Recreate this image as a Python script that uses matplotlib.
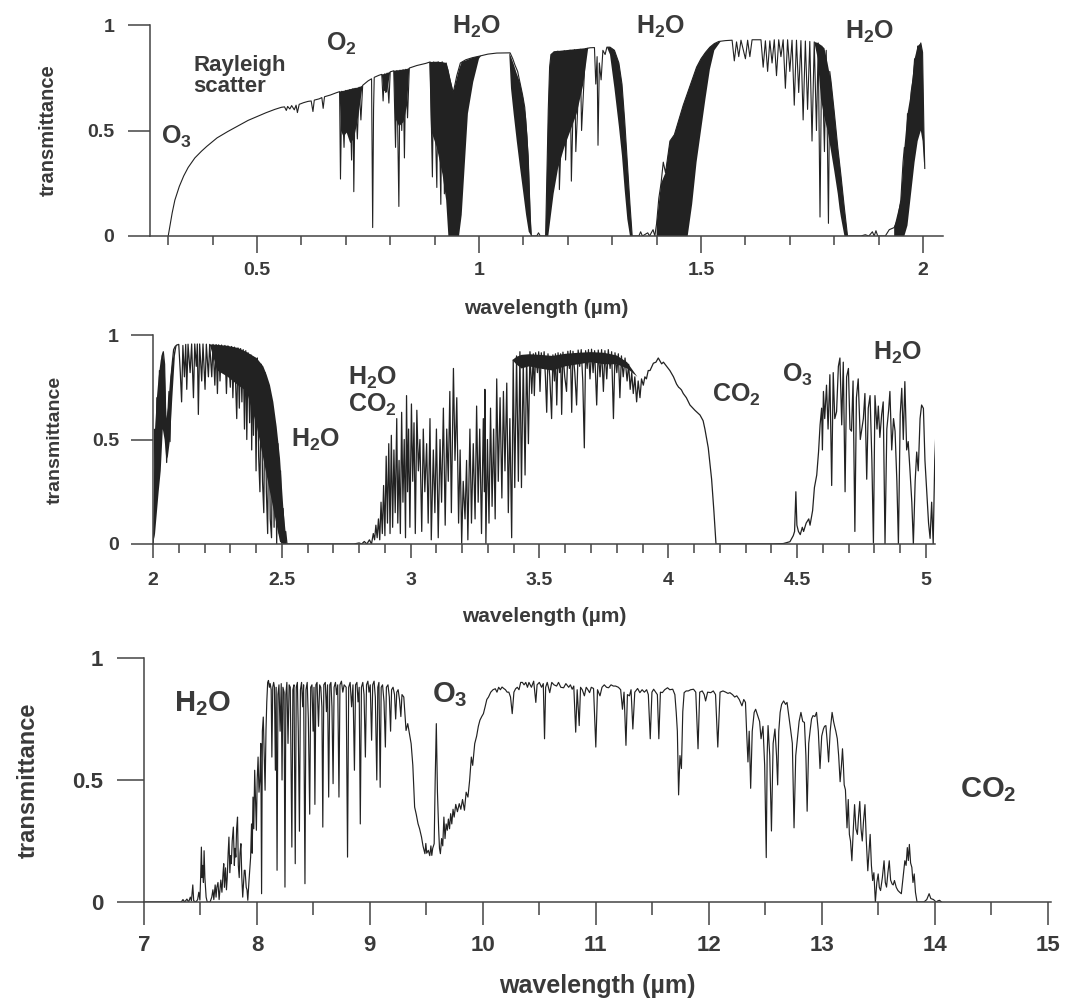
import matplotlib.pyplot as plt
import numpy as np

plt.rcParams['font.family'] = ['Liberation Sans', 'DejaVu Sans']
plt.rcParams['font.weight'] = 'bold'
plt.rcParams['mathtext.fontset'] = 'custom'
plt.rcParams['mathtext.rm'] = 'Liberation Sans:bold'
plt.rcParams['mathtext.it'] = 'Liberation Sans:bold'
plt.rcParams['mathtext.bf'] = 'Liberation Sans:bold'

INK = '#222222'
TXT = '#3a3a3a'
AXC = '#444444'
nan = np.nan

# ---------------- panel 1 : 0.3 - 2 um ----------------
vis_wl = [0.300, 0.304, 0.309, 0.315, 0.325, 0.335, 0.345, 0.360, 0.375, 0.387, 0.410, 0.434, 0.460, 0.480,
          0.500, 0.520, 0.540, 0.555, 0.562, 0.566, 0.569, 0.574, 0.578, 0.584, 0.588, 0.591, 0.595, 0.605,
          0.615, 0.622, 0.626, 0.629, 0.640, 0.646, 0.649, 0.652, 0.665, 0.680, 0.686, 0.688, 0.691, 0.696,
          0.700, 0.705, 0.709, 0.713, 0.716, 0.718, 0.721, 0.726, 0.730, 0.734, 0.738, 0.750, 0.758, 0.7605,
          0.7625, 0.764, 0.775, 0.781, 0.784, 0.787, 0.790, 0.793, 0.797, 0.800, 0.808, 0.812, 0.815, 0.8195,
          0.822, 0.826, 0.829, 0.832, 0.835, 0.839, 0.843, 0.860, 0.880, 0.890, 0.895, 0.898, 0.905, 0.908,
          0.914, 0.917, 0.922, 0.926, 0.934, 0.942, 0.950, 0.958, 0.970, 0.985, 1.000, 1.020, 1.040, 1.070,
          1.076, 1.081, 1.087, 1.092, 1.098, 1.103, 1.108, 1.111, 1.115, 1.118, 1.130, 1.134, 1.138, 1.150,
          1.153, 1.156, 1.159, 1.162, 1.170, 1.178, 1.181, 1.192, 1.195, 1.205, 1.208, 1.215, 1.218, 1.228,
          1.231, 1.240, 1.250, 1.260, 1.263, 1.266, 1.268, 1.271, 1.275, 1.279, 1.284, 1.288, 1.295, 1.305,
          1.315, 1.322, 1.328, 1.334, 1.340, 1.345, 1.360, 1.364, 1.368, 1.380, 1.384, 1.392, 1.396, 1.400,
          1.405, 1.410, 1.415, 1.420, 1.430, 1.440, 1.450, 1.460, 1.470, 1.480, 1.490, 1.500, 1.510, 1.520,
          1.530, 1.540, 1.555, 1.570, 1.575, 1.580, 1.585, 1.590, 1.600, 1.605, 1.610, 1.615, 1.635, 1.640,
          1.645, 1.650, 1.655, 1.660, 1.665, 1.670, 1.675, 1.680, 1.685, 1.690, 1.695, 1.700, 1.705, 1.710,
          1.715, 1.720, 1.725, 1.730, 1.735, 1.740, 1.745, 1.750, 1.755, 1.760, 1.764, 1.768, 1.772, 1.778,
          1.782, 1.787, 1.790, 1.793, 1.800, 1.808, 1.815, 1.823, 1.830, 1.860, 1.870, 1.878, 1.886, 1.890,
          1.894, 1.898, 1.915, 1.924, 1.935, 1.943, 1.950, 1.955, 1.958, 1.962, 1.965, 1.970, 1.973, 1.978,
          1.981, 1.985, 1.988, 1.992, 1.995, 1.999, 2.002, 2.004]
vis_t = [0.000, 0.050, 0.110, 0.170, 0.235, 0.285, 0.325, 0.370, 0.402, 0.425, 0.465, 0.495, 0.525, 0.548,
         0.566, 0.584, 0.600, 0.610, 0.612, 0.595, 0.614, 0.602, 0.618, 0.598, 0.620, 0.585, 0.624, 0.632,
         0.638, 0.640, 0.590, 0.644, 0.650, 0.656, 0.605, 0.660, 0.668, 0.680, 0.684, 0.270, 0.686, 0.420,
         0.690, 0.500, 0.694, 0.360, 0.698, 0.210, 0.700, 0.460, 0.705, 0.550, 0.714, 0.735, 0.745, 0.040,
         0.600, 0.752, 0.762, 0.766, 0.640, 0.768, 0.680, 0.772, 0.630, 0.778, 0.783, 0.420, 0.784, 0.140,
         0.786, 0.500, 0.788, 0.370, 0.790, 0.560, 0.796, 0.808, 0.818, 0.825, 0.280, 0.825, 0.230, 0.826,
         0.150, 0.826, 0.200, 0.820, 0.745, 0.680, 0.760, 0.820, 0.835, 0.845, 0.852, 0.862, 0.867, 0.868,
         0.840, 0.810, 0.780, 0.730, 0.670, 0.610, 0.470, 0.340, 0.100, 0.000, 0.000, 0.015, 0.000, 0.000,
         0.300, 0.600, 0.800, 0.860, 0.872, 0.876, 0.220, 0.878, 0.360, 0.881, 0.260, 0.883, 0.400, 0.885,
         0.500, 0.888, 0.892, 0.893, 0.720, 0.850, 0.430, 0.820, 0.740, 0.880, 0.860, 0.895, 0.895, 0.880,
         0.820, 0.720, 0.550, 0.350, 0.150, 0.000, 0.000, 0.020, 0.000, 0.015, 0.000, 0.030, 0.000, 0.060,
         0.180, 0.250, 0.350, 0.300, 0.450, 0.480, 0.550, 0.620, 0.680, 0.740, 0.800, 0.840, 0.870, 0.895,
         0.912, 0.922, 0.926, 0.928, 0.830, 0.920, 0.850, 0.928, 0.840, 0.928, 0.850, 0.930, 0.930, 0.800,
         0.925, 0.780, 0.925, 0.820, 0.930, 0.760, 0.930, 0.850, 0.930, 0.700, 0.930, 0.780, 0.928, 0.620,
         0.928, 0.680, 0.926, 0.550, 0.924, 0.600, 0.922, 0.450, 0.920, 0.500, 0.915, 0.090, 0.900, 0.400,
         0.880, 0.060, 0.780, 0.730, 0.590, 0.420, 0.290, 0.130, 0.000, 0.000, 0.006, 0.000, 0.020, 0.000,
         0.025, 0.000, 0.000, 0.030, 0.040, 0.080, 0.170, 0.350, 0.420, 0.380, 0.580, 0.550, 0.680, 0.750,
         0.840, 0.800, 0.900, 0.850, 0.915, 0.870, 0.500, 0.320]

# dense (solid black) parts of the bands: wavelength, upper edge, lower edge
vis_fill_wl = [0.686, 0.689, 0.695, 0.702, 0.710, 0.718, 0.726, 0.733, 0.738, nan,
               0.781, 0.785, 0.793, 0.800, nan,
               0.808, 0.811, 0.820, 0.830, 0.838, 0.843, nan,
               0.888, 0.892, 0.905, 0.918, 0.926, 0.931, 0.942, 0.955, 0.961, 0.968, 0.975, 0.987, 1.000, 1.005, nan,
               1.068, 1.072, 1.078, 1.085, 1.092, 1.100, 1.106, 1.112, 1.118, nan,
               1.150, 1.153, 1.156, 1.159, 1.162, 1.168, 1.178, 1.192, 1.206, 1.220, 1.235, 1.246, nan,
               1.288, 1.295, 1.305, 1.315, 1.322, 1.328, 1.334, 1.340, 1.345, nan,
               1.400, 1.410, 1.420, 1.430, 1.440, 1.450, 1.460, 1.470, 1.480, 1.490, 1.500, 1.510, 1.520, 1.530, 1.545, nan,
               1.755, 1.763, 1.770, 1.778, 1.785, 1.793, 1.800, 1.808, 1.812, 1.815, 1.823, 1.830, nan,
               1.935, 1.950, 1.958, 1.965, 1.973, 1.981, 1.988, 1.995, 1.999, 2.002, 2.004]
vis_fill_hi = [0.684, 0.686, 0.688, 0.692, 0.696, 0.700, 0.703, 0.708, 0.714, nan,
               0.766, 0.767, 0.772, 0.778, nan,
               0.783, 0.784, 0.786, 0.789, 0.792, 0.796, nan,
               0.824, 0.825, 0.826, 0.824, 0.820, 0.790, 0.680, 0.790, 0.825, 0.830, 0.836, 0.846, 0.852, 0.855, nan,
               0.868, 0.850, 0.815, 0.770, 0.730, 0.650, 0.560, 0.380, 0.000, nan,
               0.000, 0.300, 0.600, 0.800, 0.860, 0.875, 0.877, 0.880, 0.883, 0.886, 0.889, 0.892, nan,
               0.895, 0.895, 0.880, 0.820, 0.720, 0.550, 0.350, 0.150, 0.000, nan,
               0.060, 0.250, 0.300, 0.450, 0.480, 0.550, 0.620, 0.680, 0.740, 0.800, 0.840, 0.870, 0.895, 0.912, 0.924, nan,
               0.920, 0.915, 0.905, 0.890, 0.820, 0.730, 0.590, 0.420, 0.350, 0.290, 0.130, 0.000, nan,
               0.040, 0.170, 0.420, 0.580, 0.680, 0.840, 0.900, 0.915, 0.870, 0.500, 0.320]
vis_fill_lo = [0.684, 0.500, 0.470, 0.490, 0.440, 0.460, 0.540, 0.640, 0.714, nan,
               0.766, 0.690, 0.680, 0.778, nan,
               0.783, 0.560, 0.520, 0.540, 0.620, 0.796, nan,
               0.824, 0.500, 0.420, 0.290, 0.170, 0.000, 0.000, 0.000, 0.100, 0.340, 0.580, 0.730, 0.840, 0.855, nan,
               0.868, 0.700, 0.580, 0.450, 0.330, 0.200, 0.100, 0.020, 0.000, nan,
               0.000, 0.000, 0.000, 0.050, 0.100, 0.200, 0.320, 0.420, 0.500, 0.580, 0.720, 0.892, nan,
               0.895, 0.860, 0.700, 0.520, 0.380, 0.220, 0.080, 0.000, 0.000, nan,
               0.000, 0.000, 0.000, 0.000, 0.000, 0.000, 0.000, 0.000, 0.150, 0.350, 0.500, 0.650, 0.790, 0.880, 0.924, nan,
               0.920, 0.840, 0.650, 0.560, 0.500, 0.400, 0.310, 0.200, 0.130, 0.090, 0.000, 0.000, nan,
               0.000, 0.000, 0.000, 0.050, 0.200, 0.350, 0.450, 0.500, 0.450, 0.350, 0.320]

# ---------------- panel 2 : 2 - 5 um ----------------
nir_wl = [2.000, 2.005, 2.008, 2.011, 2.015, 2.020, 2.025, 2.030, 2.035, 2.040, 2.045, 2.050, 2.053, 2.057,
          2.062, 2.066, 2.070, 2.075, 2.080, 2.086, 2.092, 2.100, 2.106, 2.111, 2.116, 2.122, 2.127, 2.131,
          2.136, 2.144, 2.150, 2.157, 2.162, 2.168, 2.172, 2.176, 2.181, 2.189, 2.194, 2.202, 2.207, 2.215,
          2.220, 2.228, 2.233, 2.240, 2.245, 2.250, 2.255, 2.260, 2.266, 2.273, 2.279, 2.285, 2.291, 2.300,
          2.305, 2.310, 2.316, 2.325, 2.330, 2.335, 2.340, 2.345, 2.350, 2.355, 2.360, 2.364, 2.369, 2.375,
          2.380, 2.383, 2.387, 2.390, 2.395, 2.400, 2.405, 2.410, 2.415, 2.420, 2.425, 2.430, 2.435, 2.440,
          2.445, 2.450, 2.455, 2.460, 2.465, 2.470, 2.475, 2.480, 2.485, 2.490, 2.495, 2.500, 2.505, 2.510,
          2.515, 2.520, 2.780, 2.800, 2.810, 2.820, 2.830, 2.840, 2.848, 2.855, 2.860, 2.865, 2.870, 2.875,
          2.880, 2.885, 2.890, 2.895, 2.900, 2.905, 2.910, 2.915, 2.920,
          2.925, 2.930, 2.935, 2.940, 2.946, 2.950, 2.955, 2.960, 2.965, 2.970, 2.975, 2.980, 2.984, 2.988,
          2.992, 2.997, 3.003, 3.008, 3.013, 3.018, 3.024, 3.030, 3.036, 3.043, 3.049, 3.055, 3.062, 3.068,
          3.075, 3.080, 3.088, 3.094, 3.100, 3.107, 3.114, 3.120, 3.127, 3.134, 3.140, 3.146, 3.152, 3.158,
          3.166, 3.172, 3.179, 3.186, 3.192, 3.198, 3.204, 3.211, 3.217, 3.222, 3.230, 3.236, 3.243, 3.250,
          3.256, 3.262, 3.268, 3.275, 3.282, 3.286, 3.288, 3.292, 3.298, 3.304, 3.310, 3.316, 3.322, 3.328,
          3.334, 3.340, 3.347, 3.354, 3.360, 3.366, 3.373, 3.379, 3.385, 3.392, 3.398, 3.404, 3.411, 3.418,
          3.424, 3.430, 3.437, 3.444, 3.450, 3.457, 3.463, 3.470, 3.476,
          3.480, 3.485, 3.492, 3.497, 3.502, 3.507, 3.513, 3.518, 3.523, 3.528, 3.533, 3.540, 3.547, 3.552,
          3.558, 3.562, 3.567, 3.572, 3.578, 3.582, 3.586, 3.591, 3.598, 3.605, 3.610, 3.616, 3.620, 3.625,
          3.630, 3.637, 3.644, 3.650, 3.656, 3.662, 3.668, 3.674, 3.679, 3.685, 3.690, 3.696, 3.702, 3.708,
          3.714, 3.722, 3.728, 3.735, 3.741, 3.748, 3.754, 3.761, 3.767, 3.774, 3.780, 3.787, 3.793, 3.800,
          3.806, 3.812, 3.818, 3.825, 3.832, 3.840, 3.846, 3.852, 3.858, 3.864, 3.870, 3.877, 3.883, 3.890,
          3.896, 3.903, 3.909, 3.915, 3.922, 3.929, 3.942, 3.952, 3.961, 3.968, 3.974, 3.981, 4.006, 4.020,
          4.032, 4.040, 4.045, 4.051, 4.058, 4.070, 4.084, 4.103, 4.123, 4.135, 4.142, 4.155, 4.168, 4.177,
          4.185, 4.400, 4.446, 4.472, 4.485, 4.490, 4.495, 4.499, 4.505, 4.512, 4.520, 4.525, 4.535, 4.545,
          4.550, 4.560, 4.567, 4.576, 4.583, 4.589, 4.595, 4.598, 4.602, 4.607, 4.614, 4.620, 4.627, 4.634,
          4.640, 4.646, 4.653, 4.660, 4.666, 4.673, 4.679, 4.686, 4.692, 4.699, 4.705, 4.711, 4.717, 4.724,
          4.730, 4.737, 4.745, 4.757, 4.763, 4.770, 4.776, 4.783, 4.790, 4.796, 4.802, 4.810, 4.815, 4.821,
          4.828, 4.834, 4.841, 4.848, 4.855, 4.860, 4.867, 4.874, 4.880, 4.887, 4.893, 4.900, 4.906, 4.912,
          4.918, 4.925, 4.931, 4.938, 4.945, 4.951, 4.958, 4.964, 4.970, 4.977, 4.983, 4.990, 4.996, 5.003,
          5.010, 5.016, 5.022, 5.028, 5.034, 5.039]
nir_t = [0.000, 0.080, 0.550, 0.300, 0.700, 0.450, 0.830, 0.600, 0.900, 0.920, 0.860, 0.570, 0.390, 0.600,
         0.730, 0.490, 0.800, 0.870, 0.930, 0.945, 0.952, 0.955, 0.820, 0.680, 0.950, 0.800, 0.955, 0.740,
         0.956, 0.820, 0.957, 0.700, 0.957, 0.850, 0.957, 0.620, 0.957, 0.780, 0.957, 0.740, 0.956, 0.800,
         0.955, 0.800, 0.955, 0.760, 0.954, 0.720, 0.953, 0.780, 0.952, 0.820, 0.950, 0.720, 0.948, 0.750,
         0.945, 0.700, 0.942, 0.600, 0.938, 0.650, 0.935, 0.680, 0.930, 0.550, 0.925, 0.500, 0.915, 0.580,
         0.905, 0.450, 0.895, 0.520, 0.890, 0.350, 0.890, 0.420, 0.250, 0.860, 0.300, 0.150, 0.820, 0.250,
         0.050, 0.750, 0.120, 0.030, 0.650, 0.080, 0.580, 0.000, 0.480, 0.050, 0.350, 0.000, 0.170, 0.020,
         0.060, 0.000, 0.000, 0.005, 0.000, 0.012, 0.000, 0.020, 0.000, 0.050, 0.020, 0.090, 0.030, 0.120,
         0.020, 0.200, 0.050, 0.280, 0.040, 0.420, 0.100, 0.480, 0.050,
         0.520, 0.080, 0.450, 0.150, 0.600, 0.100, 0.400, 0.050, 0.630, 0.200, 0.500, 0.030, 0.710, 0.250,
         0.550, 0.080, 0.670, 0.300, 0.580, 0.050, 0.640, 0.350, 0.500, 0.060, 0.550, 0.250, 0.480, 0.100,
         0.600, 0.020, 0.450, 0.150, 0.550, 0.030, 0.500, 0.200, 0.650, 0.090, 0.550, 0.300, 0.730, 0.150,
         0.840, 0.400, 0.700, 0.100, 0.450, 0.003, 0.300, 0.120, 0.400, 0.020, 0.550, 0.100, 0.480, 0.120,
         0.660, 0.200, 0.550, 0.050, 0.600, 0.250, 0.740, 0.003, 0.500, 0.100, 0.650, 0.180, 0.550, 0.120,
         0.790, 0.300, 0.700, 0.220, 0.730, 0.350, 0.770, 0.150, 0.600, 0.030, 0.880, 0.270, 0.900, 0.300,
         0.920, 0.270, 0.880, 0.330, 0.900, 0.480, 0.920, 0.720, 0.910,
         0.710, 0.915, 0.820, 0.920, 0.730, 0.915, 0.840, 0.920, 0.800, 0.630, 0.910, 0.800, 0.600, 0.905,
         0.780, 0.910, 0.665, 0.915, 0.820, 0.910, 0.620, 0.918, 0.800, 0.730, 0.922, 0.840, 0.925, 0.630,
         0.922, 0.820, 0.665, 0.928, 0.850, 0.930, 0.780, 0.460, 0.925, 0.840, 0.930, 0.790, 0.932, 0.820,
         0.925, 0.665, 0.928, 0.800, 0.930, 0.730, 0.925, 0.790, 0.930, 0.840, 0.920, 0.600, 0.915, 0.820,
         0.910, 0.700, 0.900, 0.800, 0.890, 0.780, 0.860, 0.740, 0.820, 0.720, 0.800, 0.680, 0.780, 0.700,
         0.790, 0.760, 0.800, 0.790, 0.830, 0.830, 0.865, 0.870, 0.890, 0.875, 0.862, 0.870, 0.830, 0.800,
         0.765, 0.750, 0.745, 0.737, 0.720, 0.700, 0.665, 0.640, 0.617, 0.590, 0.550, 0.460, 0.310, 0.155,
         0.000, 0.000, 0.002, 0.011, 0.040, 0.060, 0.250, 0.090, 0.060, 0.045, 0.080, 0.060, 0.100, 0.120,
         0.090, 0.160, 0.270, 0.330, 0.440, 0.570, 0.650, 0.450, 0.730, 0.600, 0.760, 0.550, 0.810, 0.280,
         0.820, 0.600, 0.633, 0.850, 0.890, 0.570, 0.870, 0.250, 0.800, 0.840, 0.550, 0.540, 0.780, 0.060,
         0.700, 0.790, 0.500, 0.600, 0.720, 0.310, 0.650, 0.710, 0.400, 0.005, 0.710, 0.550, 0.660, 0.510,
         0.620, 0.680, 0.000, 0.550, 0.640, 0.730, 0.450, 0.600, 0.540, 0.300, 0.000, 0.620, 0.745, 0.500,
         0.777, 0.450, 0.490, 0.350, 0.200, 0.000, 0.300, 0.440, 0.350, 0.600, 0.665, 0.649, 0.400, 0.250,
         0.100, 0.027, 0.200, 0.000, 0.400, 0.550]

nir_fill_wl = [2.000, 2.008, 2.015, 2.022, 2.030, 2.038, 2.045, 2.052, 2.058, 2.066, 2.075, 2.085, 2.092, nan,
               2.220, 2.250, 2.290, 2.330, 2.364, 2.402, 2.428, 2.441, 2.454, 2.467, 2.480, 2.493, 2.506, 2.519, nan,
               3.395, 3.410, 3.430, 3.460, 3.500, 3.550, 3.600, 3.650, 3.700, 3.750, 3.800, 3.840, 3.880, 3.890]
nir_fill_hi = [0.000, 0.550, 0.700, 0.800, 0.880, 0.915, 0.860, 0.600, 0.650, 0.780, 0.870, 0.940, 0.952, nan,
               0.955, 0.953, 0.948, 0.938, 0.918, 0.890, 0.850, 0.810, 0.760, 0.680, 0.560, 0.410, 0.170, 0.000, nan,
               0.880, 0.895, 0.905, 0.908, 0.905, 0.900, 0.910, 0.915, 0.918, 0.915, 0.902, 0.870, 0.800, 0.790]
nir_fill_lo = [0.000, 0.050, 0.150, 0.250, 0.350, 0.550, 0.500, 0.400, 0.420, 0.500, 0.700, 0.900, 0.952, nan,
               0.955, 0.830, 0.800, 0.760, 0.730, 0.570, 0.410, 0.330, 0.250, 0.170, 0.090, 0.010, 0.000, 0.000, nan,
               0.880, 0.860, 0.840, 0.850, 0.840, 0.830, 0.850, 0.860, 0.870, 0.860, 0.860, 0.840, 0.800, 0.790]

# ---------------- panel 3 : 7 - 15 um ----------------
tir_wl = [7.000, 7.330, 7.345, 7.360, 7.380, 7.395, 7.410, 7.420, 7.432, 7.440, 7.460, 7.475, 7.485, 7.495,
          7.502, 7.508, 7.514, 7.520, 7.526, 7.532, 7.539, 7.550, 7.560, 7.585, 7.600, 7.610, 7.618, 7.630,
          7.638, 7.645, 7.655, 7.665, 7.680, 7.690, 7.700, 7.706, 7.712, 7.722, 7.730, 7.737, 7.745, 7.752,
          7.760, 7.768, 7.773, 7.781, 7.791, 7.800, 7.806, 7.813, 7.820, 7.828, 7.835, 7.843, 7.850, 7.858,
          7.866, 7.874, 7.882, 7.888, 7.895, 7.905, 7.912, 7.919, 7.930, 7.944, 7.952, 7.958, 7.965, 7.972,
          7.980, 7.988, 7.995, 8.002, 8.010, 8.018, 8.026, 8.034, 8.041, 8.048, 8.056, 8.064, 8.072, 8.080,
          8.087, 8.095, 8.102, 8.110, 8.117, 8.126, 8.132, 8.140, 8.148, 8.155, 8.163, 8.170, 8.178, 8.186,
          8.195, 8.205, 8.215, 8.222, 8.230, 8.240, 8.248, 8.256, 8.265, 8.275, 8.285, 8.295, 8.309, 8.318,
          8.328, 8.339, 8.348, 8.358, 8.366, 8.376, 8.385, 8.395, 8.405, 8.413, 8.425, 8.434, 8.445, 8.455,
          8.467, 8.476, 8.487, 8.497, 8.505, 8.513, 8.522, 8.532, 8.545, 8.555, 8.565, 8.575, 8.583, 8.592,
          8.605, 8.615, 8.625, 8.635, 8.645, 8.655, 8.664, 8.674, 8.683, 8.695, 8.705, 8.715, 8.726, 8.735,
          8.748, 8.760, 8.772, 8.790, 8.802, 8.812, 8.825, 8.838, 8.850, 8.863, 8.873, 8.885, 8.895, 8.905,
          8.915, 8.925, 8.937, 8.948, 8.960, 8.970, 8.982, 8.992, 9.003, 9.015, 9.025, 9.037, 9.048, 9.061,
          9.070, 9.080, 9.091, 9.100, 9.112, 9.125, 9.137, 9.146, 9.160, 9.172, 9.183, 9.192, 9.205, 9.218,
          9.228, 9.238, 9.250, 9.262, 9.274, 9.284, 9.300, 9.320, 9.335, 9.350, 9.365, 9.380, 9.396, 9.410,
          9.426, 9.440, 9.457, 9.470, 9.487, 9.495, 9.503, 9.517, 9.530, 9.540, 9.548, 9.556, 9.569, 9.578,
          9.588, 9.598, 9.609, 9.616, 9.624, 9.635, 9.645, 9.655, 9.665, 9.675, 9.685, 9.695, 9.705, 9.715,
          9.725, 9.736, 9.746, 9.760, 9.775, 9.791, 9.805, 9.820, 9.837, 9.852, 9.868, 9.883, 9.898, 9.910,
          9.928, 9.945, 9.960, 9.974, 9.990, 10.005, 10.020, 10.035, 10.050, 10.070, 10.090, 10.110, 10.125, 10.140,
          10.155, 10.170, 10.185, 10.200, 10.215, 10.230, 10.245, 10.260, 10.275, 10.290, 10.305, 10.320, 10.335, 10.350,
          10.365, 10.380, 10.395, 10.408, 10.430, 10.450, 10.469, 10.480, 10.500, 10.520, 10.535, 10.546, 10.556, 10.570,
          10.592, 10.610, 10.630, 10.653, 10.670, 10.690, 10.715, 10.735, 10.760, 10.775, 10.791, 10.805, 10.822, 10.835,
          10.853, 10.865, 10.880, 10.899, 10.915, 10.930, 10.945, 10.960, 10.980, 11.000, 11.015, 11.037, 11.055, 11.075,
          11.095, 11.113, 11.135, 11.155, 11.175, 11.200, 11.220, 11.236, 11.250, 11.267, 11.280, 11.298, 11.312, 11.328,
          11.345, 11.370, 11.390, 11.410, 11.430, 11.450, 11.465, 11.482, 11.497, 11.512, 11.530, 11.545, 11.558, 11.572,
          11.589, 11.610, 11.635, 11.655, 11.681, 11.700, 11.712, 11.722, 11.733, 11.745, 11.758, 11.770, 11.782, 11.800,
          11.819, 11.840, 11.865, 11.885, 11.905, 11.920, 11.942, 11.960, 11.972, 11.990, 12.018, 12.040, 12.060, 12.080,
          12.100, 12.126, 12.150, 12.170, 12.187, 12.210, 12.230, 12.248, 12.270, 12.294, 12.310, 12.325, 12.335, 12.347,
          12.358, 12.371, 12.385, 12.402, 12.415, 12.433, 12.450, 12.463, 12.480, 12.495, 12.509, 12.517, 12.525, 12.540,
          12.555, 12.570, 12.586, 12.600, 12.610, 12.620, 12.632, 12.645, 12.663, 12.680, 12.693, 12.710, 12.724, 12.740,
          12.755, 12.770, 12.785, 12.800, 12.816, 12.832, 12.847, 12.860, 12.871, 12.885, 12.899, 12.910, 12.923, 12.940,
          12.954, 12.970, 12.985, 13.000, 13.015, 13.025, 13.037, 13.050, 13.061, 13.075, 13.092, 13.105, 13.113, 13.125,
          13.138, 13.150, 13.163, 13.175, 13.184, 13.192, 13.199, 13.210, 13.224, 13.235, 13.245, 13.255, 13.267, 13.280,
          13.291, 13.303, 13.316, 13.326, 13.337, 13.348, 13.359, 13.370, 13.383, 13.395, 13.408, 13.418, 13.429, 13.440,
          13.451, 13.462, 13.475, 13.488, 13.500, 13.510, 13.521, 13.537, 13.552, 13.563, 13.574, 13.586, 13.598, 13.610,
          13.623, 13.633, 13.644, 13.660, 13.675, 13.690, 13.705, 13.720, 13.736, 13.747, 13.758, 13.767, 13.776, 13.787,
          13.798, 13.808, 13.819, 13.830, 13.844, 13.905, 13.930, 13.951, 13.966, 13.990, 14.012, 14.030, 14.043, 14.060]
tir_t = [0.000, 0.000, 0.010, 0.000, 0.012, 0.000, 0.020, 0.005, 0.070, 0.005, 0.000, 0.010, 0.040, 0.008,
         0.110, 0.225, 0.100, 0.150, 0.080, 0.210, 0.100, 0.020, 0.000, 0.000, 0.020, 0.050, 0.010, 0.070,
         0.020, 0.060, 0.080, 0.010, 0.090, 0.040, 0.120, 0.157, 0.060, 0.140, 0.050, 0.100, 0.200, 0.266,
         0.120, 0.190, 0.157, 0.250, 0.307, 0.150, 0.220, 0.184, 0.300, 0.348, 0.150, 0.100, 0.200, 0.239,
         0.100, 0.020, 0.080, 0.130, 0.130, 0.060, 0.050, 0.007, 0.090, 0.184, 0.320, 0.200, 0.430, 0.300,
         0.540, 0.400, 0.294, 0.500, 0.594, 0.450, 0.500, 0.650, 0.034, 0.700, 0.758, 0.600, 0.458, 0.703,
         0.820, 0.900, 0.908, 0.880, 0.895, 0.870, 0.594, 0.880, 0.900, 0.880, 0.540, 0.880, 0.130, 0.850,
         0.890, 0.700, 0.895, 0.500, 0.880, 0.860, 0.061, 0.850, 0.900, 0.650, 0.890, 0.880, 0.225, 0.870,
         0.890, 0.157, 0.880, 0.900, 0.700, 0.290, 0.870, 0.900, 0.800, 0.890, 0.075, 0.870, 0.900, 0.750,
         0.360, 0.880, 0.890, 0.700, 0.880, 0.400, 0.890, 0.900, 0.720, 0.890, 0.880, 0.800, 0.307, 0.890,
         0.900, 0.780, 0.890, 0.430, 0.890, 0.900, 0.800, 0.485, 0.880, 0.900, 0.850, 0.890, 0.430, 0.890,
         0.905, 0.860, 0.890, 0.880, 0.184, 0.880, 0.900, 0.800, 0.890, 0.540, 0.890, 0.900, 0.820, 0.880,
         0.320, 0.880, 0.900, 0.850, 0.594, 0.890, 0.905, 0.860, 0.890, 0.663, 0.890, 0.905, 0.840, 0.500,
         0.880, 0.900, 0.470, 0.880, 0.890, 0.820, 0.635, 0.880, 0.890, 0.840, 0.700, 0.870, 0.880, 0.850,
         0.750, 0.860, 0.870, 0.830, 0.760, 0.850, 0.840, 0.703, 0.731, 0.690, 0.649, 0.560, 0.389, 0.360,
         0.321, 0.300, 0.266, 0.230, 0.198, 0.240, 0.200, 0.212, 0.190, 0.230, 0.191, 0.220, 0.239, 0.500,
         0.731, 0.450, 0.294, 0.220, 0.198, 0.260, 0.230, 0.348, 0.260, 0.320, 0.294, 0.340, 0.300, 0.362,
         0.320, 0.380, 0.348, 0.400, 0.370, 0.403, 0.380, 0.420, 0.376, 0.450, 0.430, 0.499, 0.594, 0.560,
         0.649, 0.680, 0.720, 0.745, 0.760, 0.772, 0.800, 0.830, 0.840, 0.860, 0.870, 0.874, 0.860, 0.880,
         0.870, 0.881, 0.875, 0.870, 0.860, 0.860, 0.840, 0.772, 0.860, 0.874, 0.880, 0.870, 0.900, 0.900,
         0.890, 0.900, 0.880, 0.900, 0.880, 0.905, 0.818, 0.890, 0.900, 0.880, 0.895, 0.669, 0.880, 0.900,
         0.858, 0.900, 0.890, 0.885, 0.900, 0.880, 0.878, 0.895, 0.880, 0.890, 0.872, 0.885, 0.696, 0.870,
         0.723, 0.880, 0.870, 0.845, 0.880, 0.870, 0.858, 0.880, 0.875, 0.635, 0.870, 0.845, 0.880, 0.890,
         0.880, 0.878, 0.890, 0.885, 0.885, 0.880, 0.870, 0.790, 0.860, 0.642, 0.850, 0.845, 0.870, 0.709,
         0.860, 0.875, 0.858, 0.870, 0.860, 0.870, 0.850, 0.669, 0.860, 0.872, 0.860, 0.850, 0.669, 0.860,
         0.858, 0.870, 0.878, 0.870, 0.872, 0.850, 0.777, 0.700, 0.439, 0.600, 0.547, 0.780, 0.858, 0.865,
         0.865, 0.870, 0.872, 0.860, 0.628, 0.860, 0.865, 0.850, 0.824, 0.860, 0.858, 0.865, 0.850, 0.635,
         0.860, 0.865, 0.860, 0.855, 0.858, 0.850, 0.840, 0.845, 0.830, 0.804, 0.830, 0.818, 0.700, 0.574,
         0.700, 0.466, 0.700, 0.777, 0.790, 0.764, 0.740, 0.669, 0.720, 0.560, 0.182, 0.600, 0.723, 0.600,
         0.291, 0.650, 0.709, 0.600, 0.480, 0.700, 0.777, 0.810, 0.824, 0.810, 0.818, 0.760, 0.709, 0.650,
         0.304, 0.600, 0.669, 0.740, 0.777, 0.740, 0.736, 0.600, 0.372, 0.650, 0.709, 0.750, 0.764, 0.760,
         0.777, 0.700, 0.547, 0.680, 0.709, 0.720, 0.723, 0.650, 0.574, 0.700, 0.777, 0.740, 0.723, 0.700,
         0.669, 0.600, 0.493, 0.560, 0.628, 0.560, 0.480, 0.460, 0.304, 0.420, 0.277, 0.250, 0.169, 0.300,
         0.399, 0.300, 0.277, 0.350, 0.412, 0.300, 0.250, 0.330, 0.399, 0.250, 0.128, 0.200, 0.277, 0.150,
         0.088, 0.120, 0.000, 0.080, 0.115, 0.060, 0.047, 0.100, 0.169, 0.080, 0.061, 0.120, 0.169, 0.090,
         0.074, 0.070, 0.088, 0.060, 0.047, 0.040, 0.034, 0.100, 0.169, 0.150, 0.223, 0.170, 0.236, 0.160,
         0.142, 0.080, 0.115, 0.040, 0.000, 0.000, 0.010, 0.034, 0.014, 0.010, 0.000, 0.005, 0.007, 0.000]

# ---------------- labels ----------------
vis_xticks = [0.5, 1, 1.5, 2]
vis_xlabels = ['0.5', '1', '1.5', '2']
nir_xticks = [2, 2.5, 3, 3.5, 4, 4.5, 5]
nir_xlabels = ['2', '2.5', '3', '3.5', '4', '4.5', '5']
tir_xticks = [7, 8, 9, 10, 11, 12, 13, 14, 15]
tir_xlabels = ['7', '8', '9', '10', '11', '12', '13', '14', '15']
y_ticks = [0, 0.5, 1]
y_labels = ['0', '0.5', '1']

vis_notes = [(0.318, 0.47, 'O$_3$', 'center'), (0.690, 0.91, 'O$_2$', 'center'),
             (0.995, 0.99, 'H$_2$O', 'center'), (1.408, 0.99, 'H$_2$O', 'center'),
             (1.880, 0.967, 'H$_2$O', 'center')]
nir_notes = [(2.629, 0.50, 'H$_2$O', 'center'), (2.755, 0.794, 'H$_2$O', 'left'),
             (2.755, 0.665, 'CO$_2$', 'left'), (4.266, 0.713, 'CO$_2$', 'center'),
             (4.500, 0.81, 'O$_3$', 'center'), (4.890, 0.914, 'H$_2$O', 'center')]
tir_notes = [(7.52, 0.815, 'H$_2$O', 'center'), (9.71, 0.85, 'O$_3$', 'center'),
             (14.47, 0.46, 'CO$_2$', 'center')]

W, H = 1076, 1006
fig = plt.figure(figsize=(W / 100, H / 100), dpi=100)
fig.patch.set_facecolor('white')


def setup(ax, xlim, xticks, xlabels, minor, ylen, ypad, xmaj, xmin, xpad, tfs, lfs_y, lfs_x, ylab_x):
    ax.set_xlim(*xlim)
    ax.set_ylim(0, 1)
    ax.spines['top'].set_visible(False)
    ax.spines['right'].set_visible(False)
    ax.spines['left'].set_bounds(0, 1)
    for s in ('left', 'bottom'):
        ax.spines[s].set_color(AXC)
        ax.spines[s].set_linewidth(1.1)
    ax.set_xticks(xticks)
    ax.set_xticklabels(xlabels)
    ax.set_xticks(minor, minor=True)
    ax.set_yticks(y_ticks)
    ax.set_yticklabels(y_labels)
    ax.tick_params(axis='y', direction='out', length=ylen, width=1.1, pad=ypad, color=AXC,
                   labelsize=tfs, labelcolor=TXT)
    ax.tick_params(axis='x', which='major', direction='out', length=xmaj, width=1.1, pad=xpad,
                   color=AXC, labelsize=tfs, labelcolor=TXT)
    ax.tick_params(axis='x', which='minor', direction='out', length=xmin, width=1.1, color=AXC)
    for lab in ax.get_xticklabels() + ax.get_yticklabels():
        lab.set_fontweight('bold')
    ax.text(ylab_x, 0.5, 'transmittance', transform=ax.transAxes, rotation=90, ha='center',
            va='center', fontsize=lfs_y, color=TXT, fontweight='bold')
    ax.text(0.5, -0.345, 'wavelength (µm)', transform=ax.transAxes, ha='center', va='center',
            fontsize=lfs_x, color=TXT, fontweight='bold')


# panel 1
ax1 = fig.add_axes([150 / W, 1 - 236 / H, 793 / W, 211 / H])
ax1.fill_between(np.array(vis_fill_wl, float), np.array(vis_fill_lo, float), np.array(vis_fill_hi, float),
                 color=INK, lw=0)
ax1.plot(vis_wl, vis_t, color=INK, lw=0.8)
setup(ax1, (0.259, 2.045), vis_xticks, vis_xlabels, np.arange(0.3, 2.05, 0.1),
      15.8, 10, 12, 6.5, 7, 14, 14.5, 15, -0.1286)
for x, y, s, ha in vis_notes:
    ax1.text(x, y, s, ha=ha, va='center', fontsize=18, color=TXT, fontweight='bold')
ax1.text(0.356, 0.757, 'Rayleigh\nscatter', ha='left', va='center', fontsize=16, color=TXT,
         fontweight='bold', linespacing=1.0)

# panel 2
ax2 = fig.add_axes([153 / W, 1 - 544 / H, 782 / W, 209 / H])
ax2.fill_between(np.array(nir_fill_wl, float), np.array(nir_fill_lo, float), np.array(nir_fill_hi, float),
                 color=INK, lw=0)
ax2.plot(nir_wl, nir_t, color=INK, lw=0.9)
setup(ax2, (2.0, 5.035), nir_xticks, nir_xlabels, np.arange(2.1, 5.05, 0.1),
      15.8, 8.6, 10, 6.5, 10, 14, 14, 15, -0.1253)
for x, y, s, ha in nir_notes:
    ax2.text(x, y, s, ha=ha, va='center', fontsize=18, color=TXT, fontweight='bold')

# panel 3
ax3 = fig.add_axes([144 / W, 1 - 902 / H, 907 / W, 244 / H])
ax3.plot(tir_wl, tir_t, color=INK, lw=0.85)
setup(ax3, (7.0, 15.03), tir_xticks, tir_xlabels, np.arange(7.5, 15, 1.0),
      19.4, 10, 16.5, 9.5, 7, 16, 17, 18, -0.1279)
for x, y, s, ha in tir_notes:
    ax3.text(x, y, s, ha=ha, va='center', fontsize=21, color=TXT, fontweight='bold')

fig.savefig('out.png', dpi=100, facecolor='white')
